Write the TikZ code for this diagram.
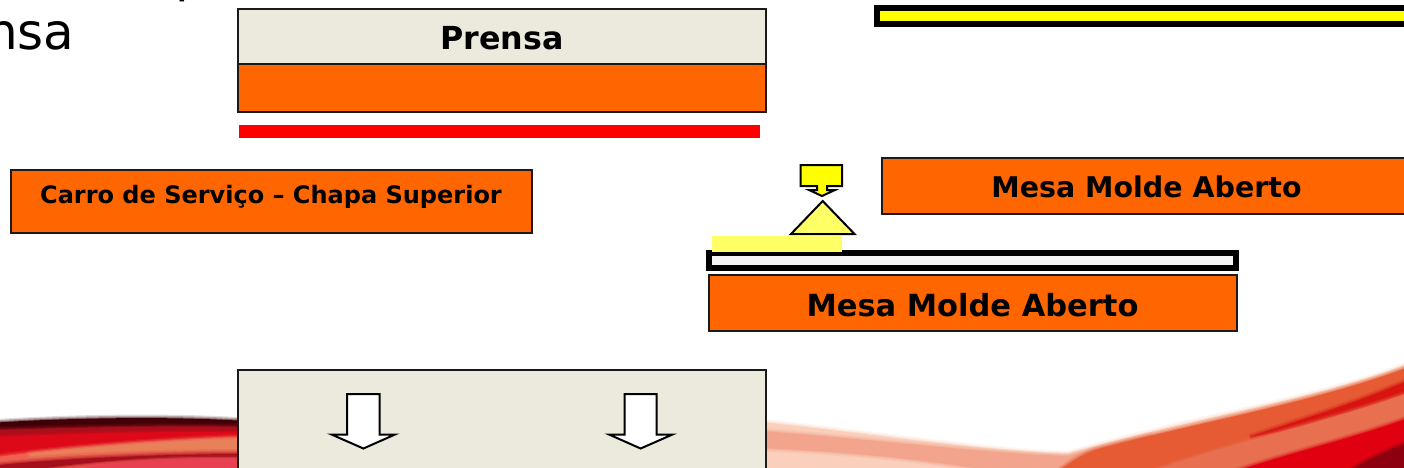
\documentclass[tikz,border=0pt]{standalone}
\usepackage{fontspec}
\setmainfont{DejaVu Sans}
\definecolor{orng}{HTML}{FF6600}
\definecolor{beige}{HTML}{ECE9DD}
\definecolor{yel}{HTML}{FFFF00}
\definecolor{paleyel}{HTML}{FFFF66}
\definecolor{dk}{HTML}{1A1A1A}
\definecolor{sw1}{HTML}{3E0006}
\definecolor{sw2}{HTML}{DD0818}
\definecolor{sw3}{HTML}{F06050}
\definecolor{sw4}{HTML}{A5101C}
\definecolor{sw5}{HTML}{E8805A}
\definecolor{sw6}{HTML}{E84050}
\definecolor{sal1}{HTML}{FAD0BC}
\definecolor{sal2}{HTML}{F2A48C}
\definecolor{sal3}{HTML}{E65A34}
\definecolor{sal4}{HTML}{E87050}
\definecolor{sal5}{HTML}{D81410}
\definecolor{sal6}{HTML}{E00010}
\definecolor{sal7}{HTML}{8C0010}
\tikzset{
  boxo/.style={draw=dk,line width=2pt,fill=orng,inner sep=0pt,outer sep=0pt,anchor=north west},
  boxb/.style={draw=dk,line width=2pt,fill=beige,inner sep=0pt,outer sep=0pt,anchor=north west},
  lbl/.style={text=black,inner sep=0pt,anchor=base},
  downarrow/.style={draw=black,line width=2pt,fill=white,line join=miter},
  heavy/.style={draw=black,line width=6pt,inner sep=0pt,outer sep=0pt,anchor=north west}
}
\newcommand\softfill[2]{%
  \draw[color=#1,line width=7pt,opacity=.15] #2;
  \draw[color=#1,line width=4.5pt,opacity=.25] #2;
  \draw[color=#1,line width=2pt,opacity=.4] #2;
  \fill[#1] #2;}
\begin{document}
\begin{tikzpicture}[x=1pt,y=-1pt]
\useasboundingbox (0,0) rectangle (1404,468);
\clip (0,0) rectangle (1404,468);
% left swoosh
\softfill{sw1}{(-10,423) .. controls (60,418) and (170,416) .. (245,421) -- (245,478) -- (-10,478) -- cycle}
\softfill{sw4}{(-10,430) .. controls (60,428) and (170,425) .. (245,427) -- (245,478) -- (-10,478) -- cycle}
\softfill{sw2}{(-10,437) .. controls (60,434) and (170,431) .. (245,432) -- (245,478) -- (-10,478) -- cycle}
\softfill{sw3}{(-10,458) .. controls (60,448) and (170,439) .. (245,437) -- (245,478) -- (-10,478) -- cycle}
\softfill{sw5}{(30,454) .. controls (110,445) and (190,440) .. (245,439) -- (245,449) .. controls (190,449) and (110,450) .. (30,456) -- cycle}
\softfill{sw4}{(-10,466) .. controls (60,458) and (170,454) .. (245,454) -- (245,457) .. controls (170,456) and (90,460) .. (20,472) -- cycle}
\softfill{sw6}{(40,478) .. controls (90,462) and (170,458) .. (245,459) -- (245,478) -- cycle}
% right swoosh
\softfill{sal1}{(760,422) .. controls (860,432) and (990,452) .. (1068,454) .. controls (1180,420) and (1320,400) .. (1414,362) -- (1414,478) -- (760,478) -- cycle}
\softfill{sal2}{(760,431) .. controls (860,438) and (990,454) .. (1068,456) .. controls (1110,445) and (1130,440) .. (1150,436) -- (1150,478) -- (1030,478) .. controls (950,462) and (860,452) .. (760,448) -- cycle}
\softfill{sal3}{(1050,478) .. controls (1065,466) and (1075,458) .. (1095,450) .. controls (1180,426) and (1320,402) .. (1414,365) -- (1414,478) -- cycle}
\softfill{sal5}{(1250,437) .. controls (1300,420) and (1360,402) .. (1414,378) -- (1414,390) .. controls (1360,414) and (1300,428) .. (1250,437) -- cycle}
\softfill{sal4}{(1135,478) .. controls (1200,450) and (1320,425) .. (1414,391) -- (1414,478) -- cycle}
\softfill{sal6}{(1216,478) .. controls (1290,452) and (1350,440) .. (1414,416) -- (1414,478) -- cycle}
\softfill{sal7}{(1340,478) .. controls (1365,460) and (1385,452) .. (1414,440) -- (1414,458) -- (1395,478) -- cycle}
% clipped title fragments
\node[anchor=base west,inner sep=0pt,font=\fontsize{50}{50}\selectfont] (title) at (-14,49.5) {nsa};
\node[anchor=base west,inner sep=0pt,font=\fontsize{50}{50}\selectfont] (titletop) at (175.5,-8) {p};
% press
\node[boxb,minimum width=528pt,minimum height=56pt] (prensa) at (238,9) {};
\node[lbl,font=\bfseries\fontsize{31.7}{32}\selectfont] (prensat) at (502,50) {Prensa};
\node[boxo,minimum width=528pt,minimum height=48pt] (prato) at (238,64.5) {};
\fill[red] (239,124.5) rectangle (760,137.5);
% top-right yellow bar
\node[heavy,fill=yel,minimum width=560pt,minimum height=16.5pt] (barra) at (877,8) {};
% service car
\node[boxo,minimum width=521pt,minimum height=62.5pt] (carro) at (11,170) {};
\node[lbl,font=\bfseries\fontsize{24}{24}\selectfont] (carrot) at (271,203) {Carro de Serviço – Chapa Superior};
% right table
\node[boxo,minimum width=530pt,minimum height=56pt] (mesaa) at (882,158) {};
\node[lbl,font=\bfseries\fontsize{28.5}{29}\selectfont] (mesaat) at (1146.5,197) {Mesa Molde Aberto};
% yellow sensor
\draw[line width=2pt,fill=yel,line join=miter] (800.5,165) -- (842,165) -- (842,186) -- (827,186) -- (827,190) -- (835,190) -- (822,196) -- (809,190) -- (817,190) -- (817,186) -- (800.5,186) -- cycle;
\draw[line width=2pt,fill=paleyel,line join=miter] (822.7,201) -- (854.5,234) -- (791,234) -- cycle;
% plate
\node[heavy,fill=white!96!black,minimum width=527.5pt,minimum height=15.3pt] (placa) at (708.5,252.7) {};
\fill[paleyel] (712,236) rectangle (842,251.7);
% lower table
\node[boxo,minimum width=528pt,minimum height=56pt] (mesab) at (708.5,275) {};
\node[lbl,font=\bfseries\fontsize{30.5}{31}\selectfont] (mesabt) at (972.5,316) {Mesa Molde Aberto};
% bottom box
\node[boxb,minimum width=528pt,minimum height=110pt] (base) at (238,370) {};
\draw[downarrow] (347,394) -- (379.5,394) -- (379.5,434.5) -- (395,434.5) -- (363.4,448.5) -- (331.5,434.5) -- (347,434.5) -- cycle;
\draw[downarrow] (624.5,394) -- (656.7,394) -- (656.7,434.5) -- (672.5,434.5) -- (640.6,448.5) -- (609,434.5) -- (624.5,434.5) -- cycle;
\end{tikzpicture}
\end{document}
